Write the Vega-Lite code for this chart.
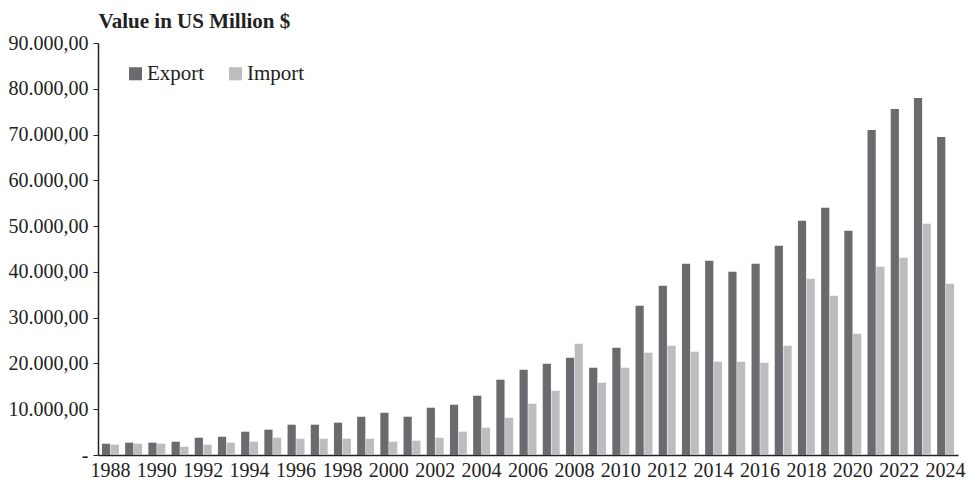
{
  "$schema": "https://vega.github.io/schema/vega-lite/v6.json",
  "autosize": "none",
  "width": 860,
  "height": 412,
  "padding": {"left": 98, "top": 43, "right": 11, "bottom": 29},
  "background": "white",
  "config": {
    "font": "Liberation Serif",
    "view": {"stroke": null}
  },
  "data": {
    "values": [
      {"year": 1988, "flow": "Export", "value": 2470}, {"year": 1988, "flow": "Import", "value": 2250},
      {"year": 1989, "flow": "Export", "value": 2690}, {"year": 1989, "flow": "Import", "value": 2470},
      {"year": 1990, "flow": "Export", "value": 2690}, {"year": 1990, "flow": "Import", "value": 2470},
      {"year": 1991, "flow": "Export", "value": 2900}, {"year": 1991, "flow": "Import", "value": 1810},
      {"year": 1992, "flow": "Export", "value": 3780}, {"year": 1992, "flow": "Import", "value": 2250},
      {"year": 1993, "flow": "Export", "value": 4000}, {"year": 1993, "flow": "Import", "value": 2690},
      {"year": 1994, "flow": "Export", "value": 5090}, {"year": 1994, "flow": "Import", "value": 2900},
      {"year": 1995, "flow": "Export", "value": 5530}, {"year": 1995, "flow": "Import", "value": 3780},
      {"year": 1996, "flow": "Export", "value": 6620}, {"year": 1996, "flow": "Import", "value": 3560},
      {"year": 1997, "flow": "Export", "value": 6620}, {"year": 1997, "flow": "Import", "value": 3560},
      {"year": 1998, "flow": "Export", "value": 7060}, {"year": 1998, "flow": "Import", "value": 3560},
      {"year": 1999, "flow": "Export", "value": 8360}, {"year": 1999, "flow": "Import", "value": 3560},
      {"year": 2000, "flow": "Export", "value": 9230}, {"year": 2000, "flow": "Import", "value": 2900},
      {"year": 2001, "flow": "Export", "value": 8360}, {"year": 2001, "flow": "Import", "value": 3120},
      {"year": 2002, "flow": "Export", "value": 10330}, {"year": 2002, "flow": "Import", "value": 3780},
      {"year": 2003, "flow": "Export", "value": 10990}, {"year": 2003, "flow": "Import", "value": 5090},
      {"year": 2004, "flow": "Export", "value": 12950}, {"year": 2004, "flow": "Import", "value": 5960},
      {"year": 2005, "flow": "Export", "value": 16450}, {"year": 2005, "flow": "Import", "value": 8140},
      {"year": 2006, "flow": "Export", "value": 18640}, {"year": 2006, "flow": "Import", "value": 11200},
      {"year": 2007, "flow": "Export", "value": 19950}, {"year": 2007, "flow": "Import", "value": 14040},
      {"year": 2008, "flow": "Export", "value": 21260}, {"year": 2008, "flow": "Import", "value": 24300},
      {"year": 2009, "flow": "Export", "value": 19070}, {"year": 2009, "flow": "Import", "value": 15800},
      {"year": 2010, "flow": "Export", "value": 23440}, {"year": 2010, "flow": "Import", "value": 19070},
      {"year": 2011, "flow": "Export", "value": 32600}, {"year": 2011, "flow": "Import", "value": 22350},
      {"year": 2012, "flow": "Export", "value": 36950}, {"year": 2012, "flow": "Import", "value": 23870},
      {"year": 2013, "flow": "Export", "value": 41760}, {"year": 2013, "flow": "Import", "value": 22550},
      {"year": 2014, "flow": "Export", "value": 42420}, {"year": 2014, "flow": "Import", "value": 20370},
      {"year": 2015, "flow": "Export", "value": 40020}, {"year": 2015, "flow": "Import", "value": 20370},
      {"year": 2016, "flow": "Export", "value": 41760}, {"year": 2016, "flow": "Import", "value": 20150},
      {"year": 2017, "flow": "Export", "value": 45690}, {"year": 2017, "flow": "Import", "value": 23860},
      {"year": 2018, "flow": "Export", "value": 51150}, {"year": 2018, "flow": "Import", "value": 38490},
      {"year": 2019, "flow": "Export", "value": 53990}, {"year": 2019, "flow": "Import", "value": 34770},
      {"year": 2020, "flow": "Export", "value": 48960}, {"year": 2020, "flow": "Import", "value": 26470},
      {"year": 2021, "flow": "Export", "value": 71010}, {"year": 2021, "flow": "Import", "value": 41110},
      {"year": 2022, "flow": "Export", "value": 75600}, {"year": 2022, "flow": "Import", "value": 43070},
      {"year": 2023, "flow": "Export", "value": 78000}, {"year": 2023, "flow": "Import", "value": 50500},
      {"year": 2024, "flow": "Export", "value": 69480}, {"year": 2024, "flow": "Import", "value": 37420}
    ]
  },
  "mark": {"type": "bar"},
  "encoding": {
    "x": {
      "field": "year",
      "type": "ordinal",
      "scale": {"paddingInner": 0.27, "paddingOuter": 0.17},
      "axis": {
        "title": null,
        "values": [1988, 1990, 1992, 1994, 1996, 1998, 2000, 2002, 2004, 2006, 2008, 2010, 2012, 2014, 2016, 2018, 2020, 2022, 2024],
        "labelAngle": 0,
        "labelFontSize": 20,
        "labelColor": "#222222",
        "labelOverlap": false,
        "labelPadding": 5,
        "ticks": false,
        "domainColor": "#222222",
        "domainWidth": 1.5
      }
    },
    "xOffset": {
      "field": "flow",
      "type": "nominal",
      "scale": {"paddingInner": 0.06}
    },
    "y": {
      "field": "value",
      "type": "quantitative",
      "scale": {"domain": [0, 90000], "nice": false},
      "axis": {
        "title": "Value in US Million $",
        "titleAngle": 0,
        "titleX": 0,
        "titleY": -22,
        "titleAlign": "left",
        "titleBaseline": "middle",
        "titleFontSize": 21,
        "titleFontWeight": "bold",
        "titleColor": "#222222",
        "values": [0, 10000, 20000, 30000, 40000, 50000, 60000, 70000, 80000, 90000],
        "labelExpr": "datum.value == 0 ? '-' : format(datum.value / 1000, 'd') + '.000,00'",
        "labelFontSize": 20,
        "labelColor": "#222222",
        "labelPadding": 5,
        "tickSize": 5,
        "tickColor": "#222222",
        "domainColor": "#222222",
        "domainWidth": 1.5,
        "grid": false
      }
    },
    "color": {
      "field": "flow",
      "type": "nominal",
      "scale": {"domain": ["Export", "Import"], "range": ["#6b6b6f", "#bdbdc0"]},
      "legend": {
        "title": null,
        "orient": "none",
        "legendX": 27,
        "legendY": 20,
        "direction": "horizontal",
        "symbolType": "square",
        "symbolSize": 170,
        "symbolStrokeWidth": 0,
        "labelFontSize": 21,
        "labelColor": "#222222",
        "labelOffset": 1,
        "columnPadding": 20
      }
    }
  }
}
